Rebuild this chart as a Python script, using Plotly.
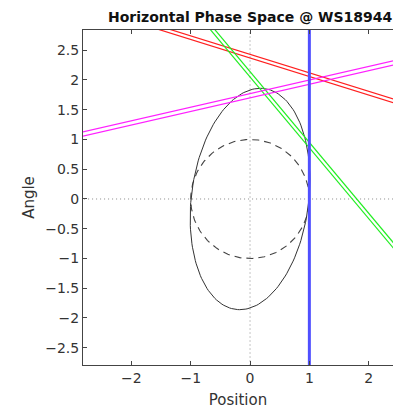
import numpy as np
import plotly.graph_objects as go

# --- data ---
title_text = "Horizontal Phase Space @ WS18944"
x_ticks = [-2, -1, 0, 1, 2]
y_ticks = [-2.5, -2, -1.5, -1, -0.5, 0, 0.5, 1, 1.5, 2, 2.5]

# measured ellipse (Twiss-like parameters)
ell_eps = 1.85
ell_beta = 0.551
ell_alpha = -0.174

# unit (design) circle radius
circle_radius = 1.0

# constraint lines: y = center + slope*x, drawn as +/- half-width pairs
line_names = ["red", "green", "magenta"]
line_slopes = [-0.311, -1.19, 0.228]
line_centers = [2.40, 2.095, 1.735]
line_halfwidths = [0.03, 0.045, 0.035]

# wire-scanner position measurement
ws_position = 1.0

x_range = [-2.816, 2.41]
y_range = [-2.79, 2.84]

# --- styles ---
line_colors = {"red": "#ff2020", "green": "#22ee22", "magenta": "#ff20ff"}
FONT = "DejaVu Sans"

fig = go.Figure()

# dotted axes
fig.add_trace(go.Scatter(x=[-3, 3], y=[0, 0], mode="lines",
                         line=dict(color="#8a8a8a", width=1, dash="1px,3px"), hoverinfo="skip"))
fig.add_trace(go.Scatter(x=[0, 0], y=[-3, 3], mode="lines",
                         line=dict(color="#8a8a8a", width=1, dash="1px,3px"), hoverinfo="skip"))

# dashed unit circle
t = np.linspace(0, 2 * np.pi, 181)
fig.add_trace(go.Scatter(x=circle_radius * np.cos(t), y=circle_radius * np.sin(t), mode="lines",
                         line=dict(color="#444444", width=1.1, dash="7px,5px"), hoverinfo="skip"))

# measured ellipse
ex = np.sqrt(ell_beta * ell_eps) * np.cos(t)
ey = -np.sqrt(ell_eps / ell_beta) * (ell_alpha * np.cos(t) + np.sin(t))
fig.add_trace(go.Scatter(x=ex, y=ey, mode="lines",
                         line=dict(color="#333333", width=1.0), hoverinfo="skip"))

# constraint line pairs
xs = np.array([-3.0, 3.0])
for name, m, c, h in zip(line_names, line_slopes, line_centers, line_halfwidths):
    for s in (-1, 1):
        fig.add_trace(go.Scatter(x=xs, y=c + s * h + m * xs, mode="lines",
                                 line=dict(color=line_colors[name], width=1.2), hoverinfo="skip"))

# wire scanner position
fig.add_trace(go.Scatter(x=[ws_position, ws_position], y=[-3, 3], mode="lines",
                         line=dict(color="#4f4fff", width=3), hoverinfo="skip"))

fig.update_layout(
    width=393, height=409,
    margin=dict(l=83, r=0, t=30, b=44),
    paper_bgcolor="white", plot_bgcolor="white",
    showlegend=False,
    font=dict(family=FONT, size=14, color="#333333"),
    annotations=[dict(text="<b>" + title_text + "</b>", xref="x", yref="paper",
                      x=0, y=1, yshift=13, xanchor="center", yanchor="middle",
                      showarrow=False, font=dict(family=FONT, size=14, color="#111111"))],
)
fig.update_xaxes(range=x_range, tickvals=x_ticks, ticks="inside", ticklen=4,
                 tickcolor="#444444", showline=True, linecolor="#444444", linewidth=1,
                 mirror="ticks", showgrid=False, zeroline=False,
                 title=dict(text="Position", standoff=9, font=dict(size=15)))
fig.update_yaxes(range=y_range, tickvals=y_ticks, ticks="inside", ticklen=4,
                 tickcolor="#444444", showline=True, linecolor="#444444", linewidth=1,
                 showgrid=False, zeroline=False,
                 title=dict(text="Angle", standoff=6, font=dict(size=15)))

fig.write_html("out.html")
